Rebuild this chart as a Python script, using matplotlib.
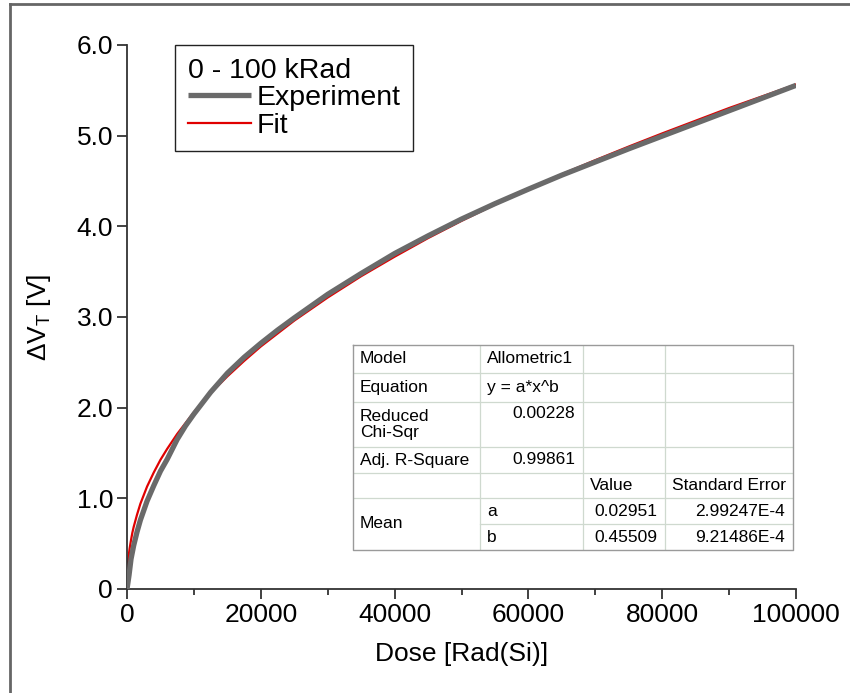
import matplotlib
matplotlib.use("Agg")
from matplotlib import pyplot as plt
from matplotlib.lines import Line2D

plt.rcParams['font.family'] = ['Liberation Sans', 'DejaVu Sans']
plt.rcParams['mathtext.fontset'] = 'custom'
plt.rcParams['mathtext.rm'] = 'Liberation Sans'
plt.rcParams['mathtext.it'] = 'Liberation Sans'

# curves
dose_exp = [0, 300, 600, 1000, 1500, 2000, 3000, 4000, 5000, 6000, 7500, 8750,
            10000, 12500, 15000, 17500, 20000, 22500, 25000, 27500, 30000, 35000,
            40000, 45000, 50000, 55000, 60000, 65000, 70000, 75000, 80000, 85000,
            90000, 95000, 100000]
dvt_exp = [0, 0.15, 0.33, 0.48, 0.63, 0.76, 0.97, 1.14, 1.30, 1.43, 1.65, 1.80,
           1.93, 2.17, 2.38, 2.555, 2.71, 2.855, 2.99, 3.12, 3.25, 3.48,
           3.70, 3.895, 4.08, 4.25, 4.41, 4.565, 4.71, 4.855, 4.995, 5.135,
           5.275, 5.415, 5.555]

dose_fit = [0, 50, 100, 200, 300, 400, 600, 800, 1000, 1500, 2000, 3000, 4000,
            5000, 6000, 7500, 10000, 12500, 15000, 17500, 20000, 25000, 30000,
            35000, 40000, 45000, 50000, 55000, 60000, 65000, 70000, 75000, 80000,
            85000, 90000, 95000, 100000]
dvt_fit = [0, 0.175, 0.24, 0.33, 0.395, 0.45, 0.54, 0.62, 0.685, 0.82, 0.94, 1.13, 1.285,
           1.425, 1.545, 1.71, 1.95, 2.16, 2.345, 2.515, 2.675, 2.96, 3.215,
           3.45, 3.665, 3.87, 4.06, 4.24, 4.41, 4.575, 4.73, 4.88, 5.025,
           5.165, 5.305, 5.435, 5.565]

x_ticks = [0, 20000, 40000, 60000, 80000, 100000]
y_ticks = [0, 1, 2, 3, 4, 5, 6]
y_labels = ['0', '1.0', '2.0', '3.0', '4.0', '5.0', '6.0']

# fit report table
table_rows = [
    ['Model', 'Allometric1', '', ''],
    ['Equation', 'y = a*x^b', '', ''],
    ['Reduced\nChi-Sqr', '0.00228', '', ''],
    ['Adj. R-Square', '0.99861', '', ''],
    ['', '', 'Value', 'Standard Error'],
    ['Mean', 'a', '0.02951', '2.99247E-4'],
    ['', 'b', '0.45509', '9.21486E-4'],
]
col_w = [127, 103, 82, 128]
row_h = [28, 29, 45, 26, 25, 26, 26]

W, H = 850, 693
fig = plt.figure(figsize=(W / 100, H / 100), dpi=100)
ax = fig.add_axes([127 / W, 1 - 589 / H, (796 - 127) / W, (589 - 45) / H])

l_exp, = ax.plot(dose_exp, dvt_exp, color='#6a6a6a', lw=3.8, zorder=3,
                 solid_capstyle='butt', label='Experiment')
l_fit, = ax.plot(dose_fit, dvt_fit, color='#e00000', lw=1.6, zorder=2, label='Fit')

ax.set_xlim(0, 100000)
ax.set_ylim(0, 6)
ax.set_xticks(x_ticks)
ax.set_xticks([10000, 30000, 50000, 70000, 90000], minor=True)
ax.set_yticks(y_ticks)
ax.set_yticklabels(y_labels)
for s in ['top', 'right']:
    ax.spines[s].set_visible(False)
for s in ['left', 'bottom']:
    ax.spines[s].set_linewidth(1.3)
    ax.spines[s].set_color('#333333')
ax.tick_params(which='major', direction='out', length=7, width=1.3, color='#333333',
               labelsize=19, pad=3)
ax.tick_params(which='minor', direction='out', length=4, width=1.3, color='#333333')
ax.set_xlabel('Dose [Rad(Si)]', fontsize=19, labelpad=11)
ax.set_ylabel(r'$\Delta$V$_\mathrm{T}$ [V]', fontsize=19, labelpad=17)

leg = ax.legend(handles=[l_exp, l_fit], title='0 - 100 kRad', loc='upper left',
                bbox_to_anchor=(0.072, 1.0), borderaxespad=0, fontsize=20.5,
                title_fontsize=20.5, alignment='left', fancybox=False,
                edgecolor='#222222', framealpha=1, handlelength=2.2,
                handletextpad=0.2, labelspacing=0.05, borderpad=0.45)
leg.get_frame().set_linewidth(1.0)

# table drawn in its own pixel-sized axes
tw, th = sum(col_w), sum(row_h)
tx0, ty0 = 353, 345
at = fig.add_axes([tx0 / W, 1 - (ty0 + th) / H, tw / W, th / H])
at.set_xlim(0, tw)
at.set_ylim(th, 0)
at.axis('off')
col_x = [sum(col_w[:i]) for i in range(len(col_w) + 1)]
row_y = [sum(row_h[:i]) for i in range(len(row_h) + 1)]
grid = '#cfd9cf'
for i, y in enumerate(row_y[1:-1], start=1):
    start = col_x[1] if i == 6 else 0
    at.plot([start, tw], [y, y], color=grid, lw=0.9)
for x in col_x[1:-1]:
    at.plot([x, x], [0, th], color=grid, lw=0.9)
at.plot([0, tw, tw, 0, 0], [0, 0, th, th, 0], color='#9a9a9a', lw=1.0, clip_on=False)

right_cells = {(2, 1), (3, 1), (5, 2), (6, 2), (5, 3), (6, 3)}
for r, row in enumerate(table_rows):
    for c, txt in enumerate(row):
        if not txt:
            continue
        yc = (row_y[r] + row_y[r + 1]) / 2
        if r == 2 and c == 1:
            yc = row_y[r] + 12
        if r == 5 and c == 0:
            yc = row_y[6]
        if (r, c) in right_cells:
            at.text(col_x[c + 1] - 8, yc, txt, ha='right', va='center', fontsize=12.5)
        else:
            at.text(col_x[c] + 7, yc, txt, ha='left', va='center', fontsize=12.5,
                    linespacing=1.15)

# outer frame of the picture (left and top edges)
fig.add_artist(Line2D([10 / W, 10 / W], [0, 1 - 4 / H], transform=fig.transFigure,
                      color='#666666', lw=2))
fig.add_artist(Line2D([10 / W, 1], [1 - 4 / H, 1 - 4 / H], transform=fig.transFigure,
                      color='#666666', lw=2))

plt.savefig('out.png', dpi=100)
